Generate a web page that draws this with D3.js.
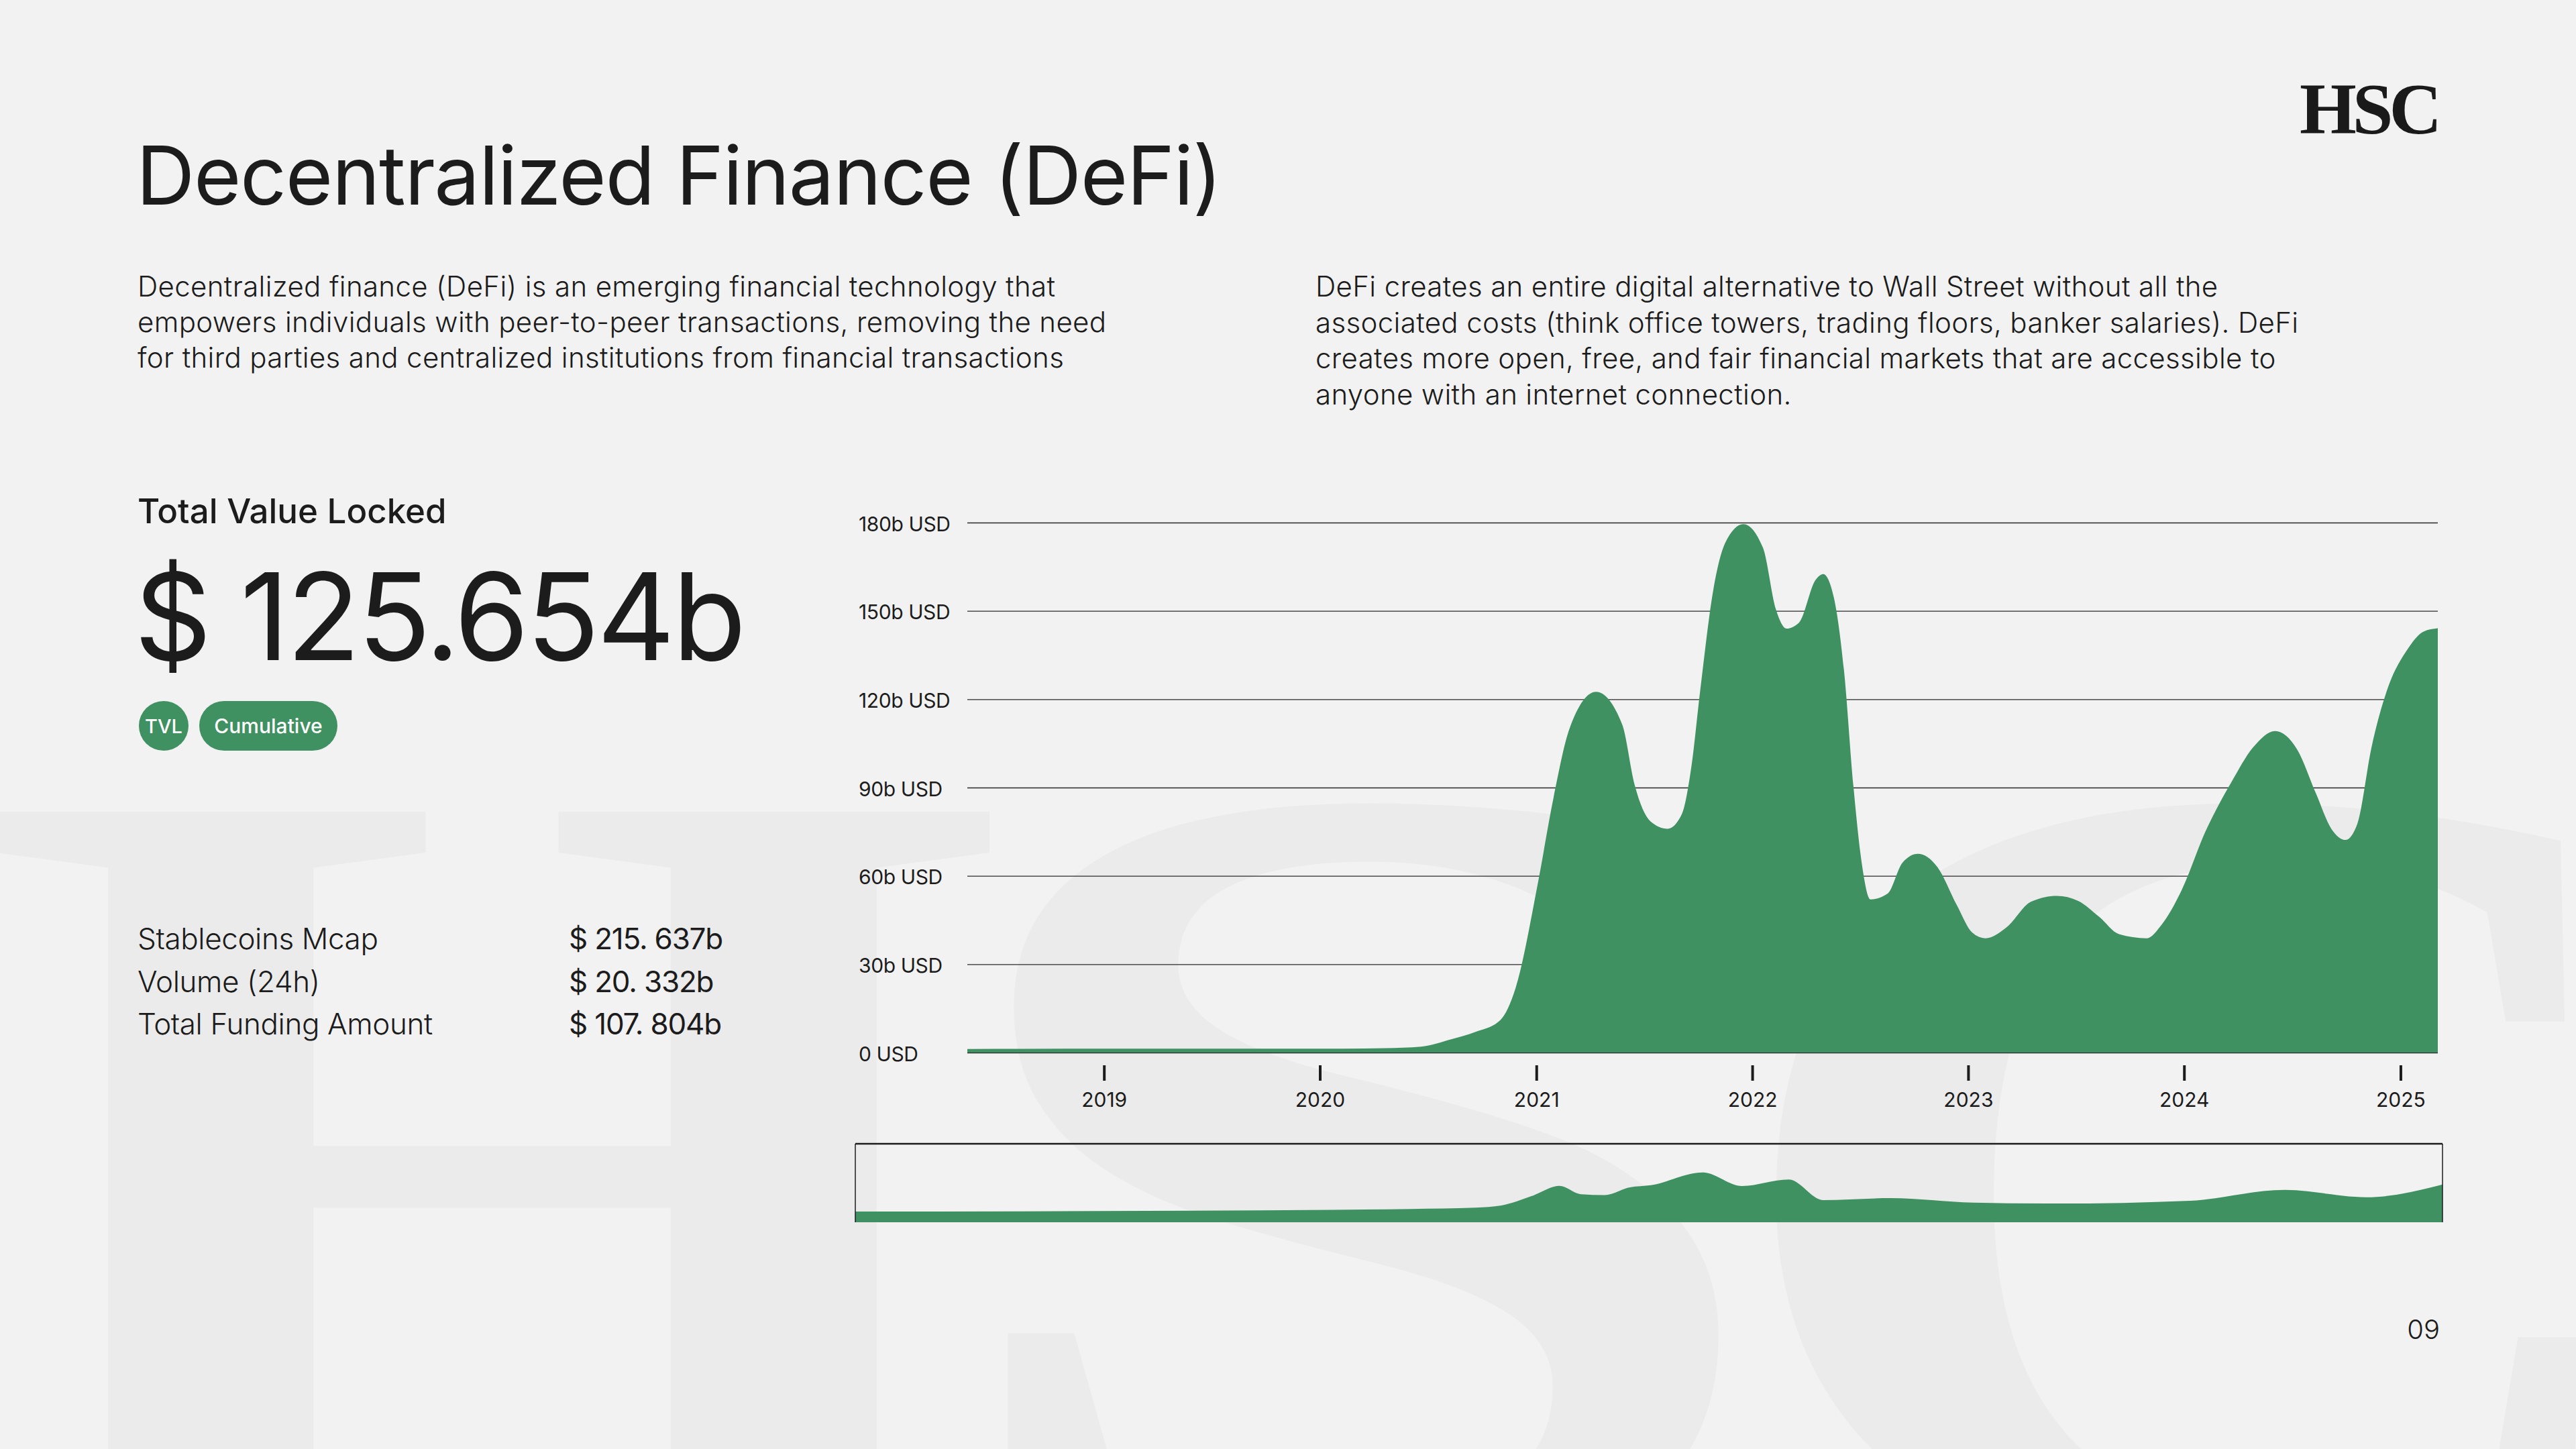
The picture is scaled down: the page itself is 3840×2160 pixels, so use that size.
<!DOCTYPE html>
<html><head><meta charset="utf-8">
<script src="https://cdn.jsdelivr.net/npm/d3@7"></script>
<style>
html,body{margin:0;padding:0;background:#f2f2f2;}
svg{display:block;}
text{font-family:Inter,"Noto Sans",sans-serif;fill:#1c1c1c;}
</style></head><body>
<svg id="c" width="3840" height="2160"></svg>
<script>
// ---------- data ----------
const titleText = "Decentralized Finance (DeFi)";
const introLeft = [
  "Decentralized finance (DeFi) is an emerging financial technology that",
  "empowers individuals with peer-to-peer transactions, removing the need",
  "for third parties and centralized institutions from financial transactions"
];
const introRight = [
  "DeFi creates an entire digital alternative to Wall Street without all the",
  "associated costs (think office towers, trading floors, banker salaries). DeFi",
  "creates more open, free, and fair financial markets that are accessible to",
  "anyone with an internet connection."
];
const kpiTitle = "Total Value Locked";
const kpiValue = "$ 125.654b";
const pillLabels = ["TVL", "Cumulative"];
const statLabels = ["Stablecoins Mcap", "Volume (24h)", "Total Funding Amount"];
const statValues = ["$ 215. 637b", "$ 20. 332b", "$ 107. 804b"];
const pageNumber = "09";
const logoText = "HSC";
const watermarkLetters = ["H", "S", "C"];

const yTickValues = [0, 30, 60, 90, 120, 150, 180];
const yTickLabels = ["0 USD", "30b USD", "60b USD", "90b USD", "120b USD", "150b USD", "180b USD"];
const xTickLabels = ["2019", "2020", "2021", "2022", "2023", "2024", "2025"];
const chartStart = "2018-05-15";
const chartEnd = "2025-03-05";

// TVL (billion USD)
const tvlDates = [
  "2018-05-15","2019-01-01","2019-07-01","2020-01-01","2020-04-20","2020-06-20","2020-08-10","2020-09-20",
  "2020-11-01","2020-11-27","2021-01-04","2021-01-30","2021-02-26","2021-04-12","2021-05-26","2021-06-16",
  "2021-07-13","2021-08-11","2021-09-04","2021-09-20","2021-10-05","2021-10-27","2021-11-16","2021-12-17",
  "2022-01-19","2022-02-10","2022-02-28","2022-03-21","2022-04-18","2022-05-01","2022-05-19","2022-06-05",
  "2022-06-21","2022-07-05","2022-07-20","2022-08-18","2022-09-12","2022-10-08","2022-11-10","2022-12-13",
  "2023-01-08","2023-01-30","2023-03-08","2023-04-17","2023-05-31","2023-07-06","2023-08-11","2023-09-13",
  "2023-10-30","2023-11-24","2023-12-28","2024-02-06","2024-03-21","2024-04-27","2024-06-03","2024-07-10",
  "2024-08-11","2024-09-06","2024-09-30","2024-10-20","2024-11-13","2024-12-09","2025-01-11","2025-02-09",
  "2025-03-05"
];
const tvlValues = [
  1.2, 1.3, 1.3, 1.3, 1.5, 2.0, 4.5, 7.0,
  11, 22, 58, 86.5, 110, 122.5, 111.5, 91,
  78.5, 76, 81, 97, 123, 157, 173, 179.5,
  171.5, 150.5, 144, 146, 160.5, 162.5, 154.5, 130,
  90.5, 64.5, 52, 54, 64.5, 67.5, 63, 50,
  40.7, 38.8, 42.7, 51.2, 53.2, 51.5, 46, 40.2,
  38.8, 43.4, 55.2, 75, 91.8, 103.7, 109.2, 103,
  88, 76, 72.2, 77.7, 103.7, 123, 136.4, 143,
  144.1
];

// navigator series (billion USD)
const navDates = [
  "2018-05-15","2019-06-01","2020-06-01","2020-10-01","2021-01-10","2021-02-20","2021-04-08","2021-05-22",
  "2021-06-25","2021-07-31","2021-09-09","2021-10-12","2022-01-01","2022-03-04","2022-05-16","2022-07-09",
  "2022-10-23","2023-03-01","2023-07-09","2024-02-03","2024-07-01","2024-11-06","2025-03-05"
];
const navValues = [
  0, 2, 8, 12, 18, 28, 71, 119,
  80, 76, 112, 122, 181, 118, 148, 53,
  62, 41, 37, 50, 100, 66, 125
];

// ---------- drawing ----------
const svg = d3.select("#c");
const GREEN = "#3f9162";
const parse = d3.timeParse("%Y-%m-%d");

// watermark (giant logo letters)
const wmTransforms = [
  "translate(-40,2331) scale(18.6,16)",
  "translate(1380,2331) scale(21.5,16)",
  "translate(2550,2331) scale(18.7,16)"
];
svg.append("g").selectAll("text").data(watermarkLetters).join("text")
  .attr("transform", (d, i) => wmTransforms[i])
  .attr("x", 0).attr("y", 0)
  .style("font-family", "'Liberation Serif', serif").style("font-weight", 700)
  .style("font-size", "107px")
  .style("fill", "#ebebeb")
  .text(d => d);

// logo
svg.append("text").text(logoText)
  .attr("x", 3428).attr("y", 199)
  .style("font-family", "'Liberation Serif', serif").style("font-weight", 700)
  .style("font-size", "109px").style("letter-spacing", "-6px")
  .style("fill", "#1a1a1a");

// title
svg.append("text").text(titleText)
  .attr("x", 203).attr("y", 305)
  .style("font-size", "121px").style("font-weight", 400).style("letter-spacing", "-1.4px");

// intro paragraphs
svg.append("g").selectAll("text").data(introLeft).join("text")
  .attr("x", 205).attr("y", (d, i) => 442 + i * 53)
  .style("font-size", "42px").style("font-weight", 300).style("letter-spacing", "0.35px")
  .text(d => d);
svg.append("g").selectAll("text").data(introRight).join("text")
  .attr("x", 1961).attr("y", (d, i) => 442 + i * 53.7)
  .style("font-size", "42px").style("font-weight", 300).style("letter-spacing", "0.35px")
  .text(d => d);

// KPI
svg.append("text").text(kpiTitle)
  .attr("x", 205).attr("y", 780)
  .style("font-size", "51px").style("font-weight", 500);
svg.append("text").text(kpiValue)
  .attr("x", 200).attr("y", 984)
  .style("font-size", "180px").style("font-weight", 400).style("letter-spacing", "-4px");

// pills
const pills = svg.append("g");
pills.append("rect").attr("x", 207).attr("y", 1045).attr("width", 74).attr("height", 74).attr("rx", 37).attr("fill", GREEN);
pills.append("rect").attr("x", 297).attr("y", 1045).attr("width", 206).attr("height", 74).attr("rx", 37).attr("fill", GREEN);
pills.append("text").text(pillLabels[0]).attr("x", 244).attr("y", 1093).attr("text-anchor", "middle")
  .style("font-size", "29px").style("font-weight", 500).style("fill", "#ffffff");
pills.append("text").text(pillLabels[1]).attr("x", 400).attr("y", 1093).attr("text-anchor", "middle")
  .style("font-size", "30px").style("font-weight", 500).style("fill", "#ffffff");

// stats
svg.append("g").selectAll("text").data(statLabels).join("text")
  .attr("x", 205).attr("y", (d, i) => 1415 + i * 63.5)
  .style("font-size", "44px").style("font-weight", 300).style("letter-spacing", "-0.4px")
  .text(d => d);
svg.append("g").selectAll("text").data(statValues).join("text")
  .attr("x", 848).attr("y", (d, i) => 1415 + i * 63.5)
  .style("font-size", "44px").style("font-weight", 400).style("letter-spacing", "-1.2px")
  .text(d => d);

// page number
svg.append("text").text(pageNumber)
  .attr("x", 3637).attr("y", 1996).attr("text-anchor", "end")
  .style("font-size", "40px").style("font-weight", 300);

// ---------- main chart ----------
const X0 = 1442, X1 = 3634, Y0 = 1569, Y1 = 779;
const x = d3.scaleTime().domain([parse(chartStart), parse(chartEnd)]).range([X0, X1]);
const y = d3.scaleLinear().domain([0, 180]).range([Y0, Y1]);

const yAxis = d3.axisLeft(y).tickValues(yTickValues)
  .tickFormat((d, i) => yTickLabels[i])
  .tickSize(-(X1 - X0)).tickPadding(0);
svg.append("g").attr("transform", `translate(${X0},0)`).call(yAxis)
  .call(g => g.select(".domain").remove())
  .call(g => g.selectAll(".tick line").attr("stroke", "#2a2a2a").attr("stroke-width", 1.4))
  .call(g => g.selectAll(".tick text").attr("x", 1280 - X0).attr("text-anchor", "start")
    .attr("dy", "0.4em").style("font-size", "30px").style("letter-spacing", "-0.4px")
    .style("font-family", "Inter, sans-serif").style("fill", "#1c1c1c"));

const tvl = tvlDates.map((d, i) => ({ date: parse(d), value: tvlValues[i] }));
const area = d3.area().x(d => x(d.date)).y0(y(0)).y1(d => y(d.value)).curve(d3.curveMonotoneX);
svg.append("path").datum(tvl).attr("d", area).attr("fill", GREEN);

const xAxis = d3.axisBottom(x)
  .tickValues(xTickLabels.map(s => parse(s + "-01-01")))
  .tickFormat((d, i) => xTickLabels[i])
  .tickSize(23).tickPadding(18);
svg.append("g").attr("transform", `translate(0,1588)`).call(xAxis)
  .call(g => g.select(".domain").remove())
  .call(g => g.selectAll(".tick line").attr("stroke", "#1c1c1c").attr("stroke-width", 4))
  .call(g => g.selectAll(".tick text").style("font-size", "30px").style("font-family", "Inter, sans-serif").style("fill", "#1c1c1c"));

// ---------- navigator ----------
const N0 = 1275, N1 = 3641, NT = 1705, NB = 1822;
const nx = d3.scaleTime().domain([parse(chartStart), parse(chartEnd)]).range([N0, N1]);
const ny = d3.scaleLinear().domain([0, 180]).range([NB - 16, NB - 74]);
const nav = navDates.map((d, i) => ({ date: parse(d), value: navValues[i] }));
const navArea = d3.area().x(d => nx(d.date)).y0(NB).y1(d => ny(d.value)).curve(d3.curveMonotoneX);
svg.append("path").datum(nav).attr("d", navArea).attr("fill", GREEN);
const frame = svg.append("g").attr("stroke", "#1c1c1c").attr("fill", "none");
frame.append("line").attr("x1", N0).attr("x2", N1).attr("y1", NT).attr("y2", NT).attr("stroke-width", 2.5);
frame.append("line").attr("x1", N0).attr("x2", N0).attr("y1", NT).attr("y2", NB).attr("stroke-width", 1.5);
frame.append("line").attr("x1", N1).attr("x2", N1).attr("y1", NT).attr("y2", NB).attr("stroke-width", 1.5);
</script>
</body></html>
